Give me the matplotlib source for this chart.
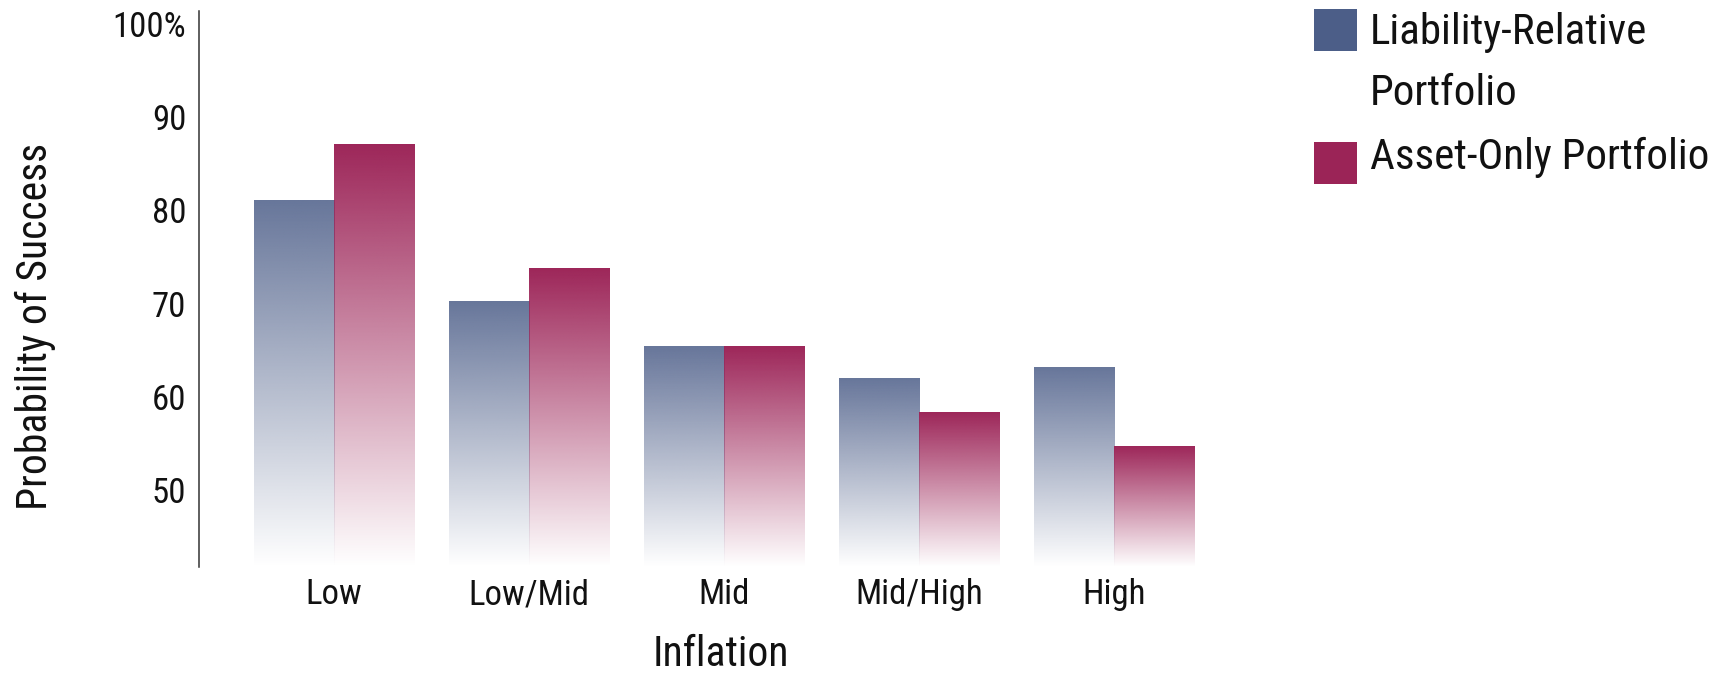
import numpy as np
import matplotlib
matplotlib.use("Agg")
import matplotlib.pyplot as plt
from matplotlib.colors import to_rgb
from matplotlib.patches import Rectangle

plt.rcParams['font.family'] = ['Roboto Condensed', 'DejaVu Sans']
plt.rcParams['font.stretch'] = 'condensed'

categories = ['Low', 'Low/Mid', 'Mid', 'Mid/High', 'High']
liability_relative = [81.1, 70.2, 65.4, 62.0, 63.1]
asset_only = [87.1, 73.8, 65.4, 58.3, 54.7]
yticks = [50, 60, 70, 80, 90, 100]
ytick_labels = ['50', '60', '70', '80', '90', '100%']

blue_top = '#67769a'
red_top = '#9d2659'
blue_key = '#4c5e88'
red_key = '#9b2457'

ymin, ymax = 41.75, 101.4
w = 0.41

fig = plt.figure(figsize=(17.2, 6.73), dpi=100)
ax = fig.add_axes([0.1155, 0.1575, 0.5925, 0.8262])


def gradient_bars(ax, xs, vals, color):
    # bar geometry from ax.bar, fill is a vertical fade to white
    bars = ax.bar(xs, vals, w, color='none', linewidth=0, zorder=2)
    rgb = to_rgb(color)
    n = 256
    img = np.ones((n, 1, 4))
    img[..., :3] = rgb
    img[:, 0, 3] = np.linspace(1, 0, n)
    for b in bars:
        x0 = b.get_x()
        ax.imshow(img, extent=[x0, x0 + b.get_width(), ymin, b.get_height()],
                  aspect='auto', origin='upper', interpolation='bilinear', zorder=1)
    return bars


x = np.arange(len(categories))
gradient_bars(ax, x - w / 2, liability_relative, blue_top)
gradient_bars(ax, x + w / 2, asset_only, red_top)

ax.set_xlim(-0.691, 4.53)
ax.set_ylim(ymin, ymax)
ax.set_yticks(yticks)
ax.set_yticklabels(ytick_labels)
ax.set_xticks(x)
ax.set_xticklabels(categories)
ax.tick_params(axis='both', length=0, labelsize=25, colors='#111111')
ax.tick_params(axis='y', pad=9)
ax.tick_params(axis='x', pad=8)

for s in ['top', 'right', 'bottom']:
    ax.spines[s].set_visible(False)
ax.spines['left'].set_color('#333333')
ax.spines['left'].set_linewidth(1.1)

fig.text(35 / 1720, 1 - 326 / 673, 'Probability of Success', rotation=90,
         fontsize=30, ha='center', va='center', color='#111111')
fig.text(721 / 1720, 1 - 655 / 673, 'Inflation', fontsize=30,
         ha='center', va='center', color='#111111')

# legend keys drawn in figure pixels
W, H = 1720, 673
for (top, col) in [(9, blue_key), (142, red_key)]:
    fig.add_artist(Rectangle((1314 / W, 1 - (top + 42) / H), 43 / W, 42 / H,
                             transform=fig.transFigure, color=col, lw=0))
fig.text(1370 / W, 1 - 44 / H, 'Liability-Relative', fontsize=31,
         va='baseline', ha='left', color='#111111')
fig.text(1370 / W, 1 - 105 / H, 'Portfolio', fontsize=31,
         va='baseline', ha='left', color='#111111')
fig.text(1370 / W, 1 - 169 / H, 'Asset-Only Portfolio', fontsize=31,
         va='baseline', ha='left', color='#111111')

fig.savefig('out.png', dpi=100)
